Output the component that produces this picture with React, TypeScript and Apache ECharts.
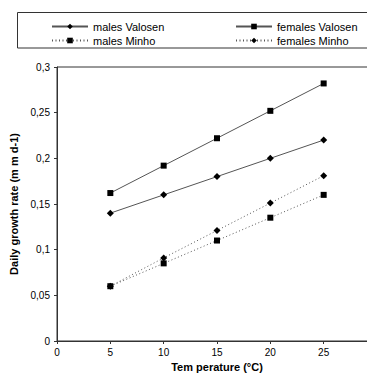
import React, { useEffect, useRef } from "react";
import * as echarts from "echarts";

const temperatures = [5, 10, 15, 20, 25];
const malesValosen = [0.14, 0.16, 0.18, 0.2, 0.22];
const femalesValosen = [0.162, 0.192, 0.222, 0.252, 0.282];
const malesMinho = [0.06, 0.085, 0.11, 0.135, 0.16];
const femalesMinho = [0.06, 0.091, 0.121, 0.151, 0.181];

const FONT = "'Liberation Sans', Arial, sans-serif";

export default function App() {
  const ref = useRef<HTMLDivElement>(null);
  useEffect(() => {
    if (!ref.current) return;
    const chart = echarts.init(ref.current, undefined, { renderer: "svg" });
    const pair = (ys: number[]) => temperatures.map((t, i) => [t, ys[i]]);
    const lineColor = "#555";
    const mk = (name: string, ys: number[], symbol: string, size: number, dotted: boolean) => ({
      name,
      type: "line",
      data: pair(ys),
      symbol,
      symbolSize: size,
      showSymbol: true,
      lineStyle: { color: lineColor, width: 1, type: dotted ? [1, 2.5] : "solid" },
      itemStyle: { color: "#000", borderWidth: 0 },
      emphasis: { disabled: true },
    });
    chart.setOption({
      animation: false,
      textStyle: { fontFamily: FONT },
      grid: {
        left: 57,
        top: 67,
        width: 320,
        height: 274,
        outerBoundsMode: "none",
        containLabel: false,
        show: true,
        borderColor: "#333",
        borderWidth: 1,
        backgroundColor: "transparent",
      },
      legend: [
        {
          data: ["males Valosen", "males Minho"],
          orient: "vertical",
          left: 46,
          top: 16,
          itemWidth: 36,
          itemHeight: 7,
          itemGap: 3,
          textStyle: { fontFamily: FONT, fontSize: 11, color: "#000" },
        },
        {
          data: ["females Valosen", "females Minho"],
          orient: "vertical",
          left: 230,
          top: 16,
          itemWidth: 36,
          itemHeight: 7,
          itemGap: 3,
          textStyle: { fontFamily: FONT, fontSize: 11, color: "#000" },
        },
      ],
      graphic: [
        {
          type: "rect",
          shape: { x: 17.5, y: 12.5, width: 356, height: 35.5 },
          style: { fill: "none", stroke: "#333", lineWidth: 1 },
          silent: true,
        },
      ],
      xAxis: {
        type: "value",
        min: 0,
        max: 30,
        interval: 5,
        name: "Tem perature (°C)",
        nameLocation: "middle",
        nameGap: 19,
        nameTextStyle: { fontFamily: FONT, fontSize: 11, fontWeight: "bold", color: "#000" },
        axisLine: { lineStyle: { color: "#333", width: 1 } },
        axisTick: { show: true, length: 3, lineStyle: { color: "#333" } },
        axisLabel: { fontFamily: FONT, fontSize: 10, color: "#000", margin: 6 },
        splitLine: { show: false },
      },
      yAxis: {
        type: "value",
        min: 0,
        max: 0.3,
        interval: 0.05,
        name: "Daily growth rate (m m d-1)",
        nameLocation: "middle",
        nameGap: 25,
        nameTextStyle: { fontFamily: FONT, fontSize: 11, fontWeight: "bold", color: "#000" },
        axisLine: { show: true, lineStyle: { color: "#333", width: 1 } },
        axisTick: { show: true, length: 3, lineStyle: { color: "#333" } },
        axisLabel: {
          fontFamily: FONT,
          fontSize: 10,
          color: "#000",
          margin: 7,
          formatter: (v: number) => String(+v.toFixed(2)).replace(".", ","),
        },
        splitLine: { show: false },
      },
      series: [
        mk("males Valosen", malesValosen, "diamond", 7, false),
        mk("females Valosen", femalesValosen, "rect", 6, false),
        mk("males Minho", malesMinho, "rect", 6, true),
        mk("females Minho", femalesMinho, "diamond", 7, true),
      ],
    });
    return () => chart.dispose();
  }, []);
  return <div ref={ref} style={{ width: 375, height: 381, margin: -8 }} />;
}
